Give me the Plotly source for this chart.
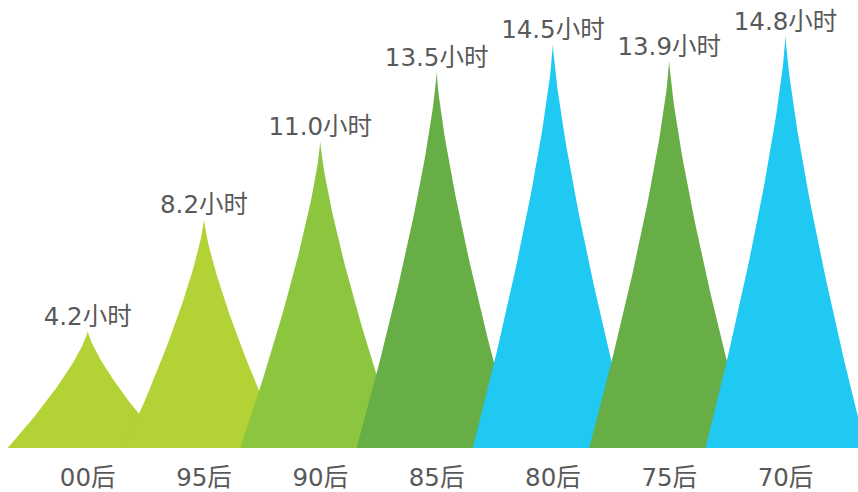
import numpy as np
import plotly.graph_objects as go

# 数据
categories = ['00后', '95后', '90后', '85后', '80后', '75后', '70后']
hours = [4.2, 8.2, 11.0, 13.5, 14.5, 13.9, 14.8]
colors = ['#b2d235', '#b2d235', '#8cc63f', '#66ae45', '#1fc9f2', '#66ae45', '#1fc9f2']

HALF_W = 0.688   # media anchura del pico (unidades de categoría)
CURVA = 1.3      # concavidad de los lados
FUENTE = 'DejaVu Sans, Noto Sans CJK SC'


def pico(xc, h, n=60):
    # forma de "spike": lados cóncavos desde la base hasta la punta
    v = np.linspace(0, 1, n)
    d = (1 - v) ** CURVA * HALF_W
    xs = np.concatenate([xc - d, (xc + d)[::-1]])
    ys = np.concatenate([v * h, (v * h)[::-1]])
    return xs, ys


fig = go.Figure()

for i, (cat, h, col) in enumerate(zip(categories, hours, colors)):
    xs, ys = pico(i, h)
    fig.add_trace(go.Scatter(
        x=xs, y=ys,
        mode='lines',
        fill='toself',
        fillcolor=col,
        line=dict(width=0, color=col),
        hoverinfo='skip',
        showlegend=False,
    ))

# etiquetas de valor
fig.add_trace(go.Scatter(
    x=list(range(len(categories))),
    y=hours,
    mode='text',
    text=[f"{h:.1f}小时" for h in hours],
    textposition='top center',
    textfont=dict(size=24.5, color='#595959', family=FUENTE),
    cliponaxis=False,
    hoverinfo='skip',
    showlegend=False,
))

fig.update_layout(
    width=858,
    height=492,
    margin=dict(l=0, r=0, t=0, b=44),
    plot_bgcolor='white',
    paper_bgcolor='white',
    font=dict(family=FUENTE, color='#595959'),
    xaxis=dict(
        range=[-0.754, 6.623],
        tickvals=list(range(len(categories))),
        ticktext=categories,
        tickfont=dict(size=24.5, color='#595959'),
        ticks='outside',
        ticklen=8,
        tickcolor='rgba(0,0,0,0)',
        showgrid=False,
        zeroline=False,
        showline=False,
    ),
    yaxis=dict(
        range=[0, 16.08],
        visible=False,
        showgrid=False,
        zeroline=False,
    ),
)

# quitar el margen por defecto del body para que la figura ocupe la ventana
fig.write_html(
    "out.html",
    config={'displayModeBar': False},
    post_script="document.body.style.margin='0';",
)
